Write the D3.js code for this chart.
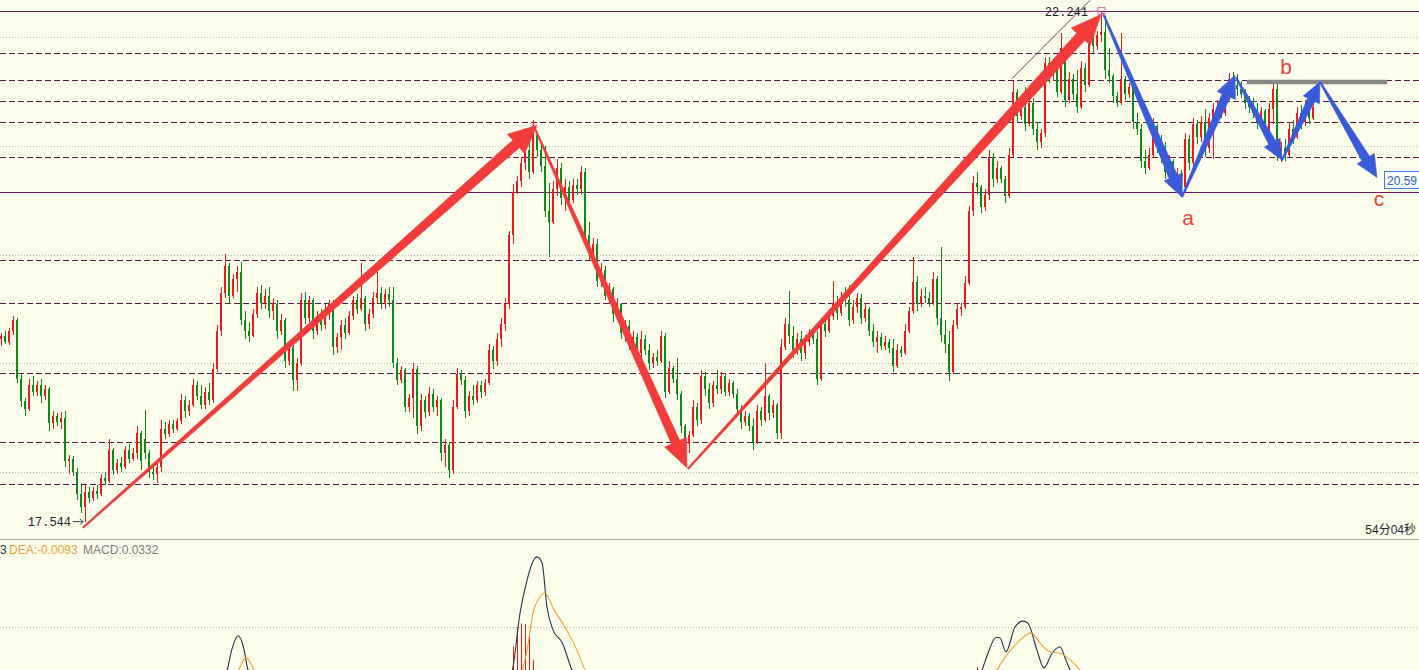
<!DOCTYPE html>
<html><head><meta charset="utf-8">
<script src="https://cdn.jsdelivr.net/npm/d3@7"></script>
<style>html,body{margin:0;padding:0;background:#fefeec;overflow:hidden}svg{display:block}</style>
</head><body>
<svg id="c" width="1419" height="670"></svg>
<script>
// ---- price candles [open, high, low, close] ----
const candles = [
[19.22,19.28,19.16,19.25],[19.25,19.30,19.18,19.20],[19.20,19.33,19.17,19.30],[19.30,19.44,19.26,19.40],[19.40,19.42,18.82,18.86],
[18.86,18.90,18.60,18.65],[18.65,18.68,18.52,18.58],[18.58,18.86,18.56,18.80],[18.80,18.88,18.70,18.74],[18.74,18.84,18.70,18.80],
[18.80,18.86,18.64,18.70],[18.70,18.80,18.66,18.76],[18.76,18.78,18.38,18.45],[18.45,18.56,18.40,18.52],[18.52,18.54,18.42,18.46],
[18.46,18.55,18.40,18.50],[18.50,18.56,18.05,18.10],[18.10,18.16,17.98,18.12],[18.12,18.15,17.96,18.00],[18.00,18.04,17.74,17.80],
[17.80,17.90,17.62,17.68],[17.68,17.88,17.544,17.82],[17.82,17.86,17.72,17.76],[17.76,17.86,17.73,17.83],[17.83,17.88,17.75,17.80],
[17.80,17.98,17.78,17.95],[17.95,18.00,17.88,17.92],[17.92,18.30,17.90,18.20],[18.20,18.22,17.97,18.02],[18.02,18.12,17.98,18.08],
[18.08,18.14,18.00,18.05],[18.05,18.24,18.03,18.20],[18.20,18.26,18.08,18.12],[18.12,18.22,18.10,18.18],[18.18,18.42,18.12,18.36],
[18.36,18.38,18.02,18.10],[18.30,18.57,18.12,18.18],[18.18,18.20,17.95,18.00],[18.00,18.06,17.93,17.98],[17.98,18.08,17.90,18.05],
[18.05,18.48,18.00,18.40],[18.40,18.46,18.30,18.35],[18.35,18.48,18.32,18.44],[18.44,18.48,18.36,18.40],[18.40,18.50,18.38,18.47],
[18.47,18.72,18.44,18.66],[18.66,18.70,18.50,18.56],[18.56,18.66,18.52,18.62],[18.62,18.86,18.60,18.80],[18.80,18.84,18.66,18.70],
[18.70,18.80,18.58,18.62],[18.62,18.78,18.58,18.74],[18.74,18.82,18.62,18.66],[18.66,19.00,18.64,18.95],[18.95,19.35,18.92,19.30],
[19.30,19.70,19.25,19.65],[19.65,20.01,19.60,19.90],[19.90,19.92,19.55,19.62],[19.62,19.82,19.60,19.78],[19.78,19.90,19.66,19.84],
[19.84,19.93,19.35,19.40],[19.40,19.48,19.22,19.30],[19.30,19.38,19.20,19.25],[19.25,19.50,19.24,19.45],[19.45,19.70,19.42,19.65],
[19.65,19.72,19.50,19.56],[19.56,19.68,19.50,19.62],[19.62,19.70,19.42,19.48],[19.48,19.60,19.40,19.55],[19.55,19.58,19.22,19.30],
[19.30,19.45,19.26,19.40],[19.40,19.42,18.96,19.02],[19.02,19.20,18.98,19.15],[19.15,19.18,18.75,18.85],[18.85,19.05,18.75,19.00],
[19.00,19.65,18.98,19.58],[19.58,19.66,19.36,19.42],[19.42,19.62,19.38,19.58],[19.58,19.60,19.22,19.30],[19.30,19.48,19.26,19.44],
[19.44,19.50,19.30,19.35],[19.35,19.55,19.32,19.50],[19.50,19.58,19.40,19.55],[19.55,19.58,19.08,19.15],[19.15,19.28,19.10,19.24],
[19.24,19.40,19.12,19.35],[19.35,19.42,19.22,19.28],[19.28,19.48,19.26,19.44],[19.44,19.62,19.40,19.58],[19.58,19.64,19.45,19.50],
[19.50,19.92,19.48,19.60],[19.60,19.62,19.30,19.36],[19.36,19.50,19.32,19.45],[19.45,19.66,19.42,19.60],[19.60,19.84,19.55,19.65],
[19.65,19.70,19.50,19.55],[19.55,19.68,19.50,19.64],[19.64,19.70,19.52,19.58],[19.58,19.70,18.96,19.00],[19.00,19.05,18.80,18.85],
[18.85,18.98,18.82,18.94],[18.94,18.96,18.55,18.60],[18.60,18.72,18.55,18.68],[18.68,19.00,18.50,18.95],[18.95,18.98,18.35,18.42],
[18.42,18.72,18.38,18.66],[18.66,18.70,18.50,18.55],[18.55,18.78,18.52,18.72],[18.72,18.76,18.55,18.60],[18.60,18.70,18.52,18.66],
[18.66,18.68,18.10,18.18],[18.18,18.30,18.05,18.25],[18.25,18.28,17.95,18.02],[18.02,18.66,17.98,18.60],[18.60,18.96,18.58,18.90],
[18.90,18.94,18.80,18.85],[18.85,18.88,18.50,18.56],[18.56,18.75,18.52,18.70],[18.70,18.80,18.62,18.66],[18.66,18.84,18.64,18.80],
[18.80,18.84,18.68,18.74],[18.74,18.86,18.70,18.82],[18.82,19.18,18.80,19.12],[19.12,19.16,18.95,19.02],[19.02,19.28,18.98,19.22],
[19.22,19.42,19.15,19.36],[19.36,19.60,19.30,19.55],[19.55,20.22,19.50,20.18],[20.18,20.65,20.10,20.58],[20.58,20.72,20.56,20.68],
[20.68,20.90,20.62,20.84],[20.84,21.02,20.78,20.96],[20.96,21.05,20.70,20.76],[20.76,21.24,20.74,21.10],[21.10,21.12,20.90,20.96],
[20.96,21.04,20.76,20.82],[20.82,21.00,20.35,20.40],[20.40,20.66,19.98,20.30],[20.30,20.68,20.28,20.60],[20.60,20.88,20.54,20.80],
[20.80,20.84,20.46,20.52],[20.52,20.70,20.40,20.62],[20.62,20.68,20.45,20.50],[20.50,20.70,20.48,20.64],[20.64,20.70,20.55,20.60],
[20.60,20.82,20.56,20.76],[20.76,20.80,20.12,20.18],[20.18,20.30,19.95,20.02],[20.02,20.15,19.98,20.10],[20.10,20.14,19.70,19.76],
[19.76,19.92,19.70,19.86],[19.86,19.90,19.58,19.62],[19.62,19.74,19.55,19.68],[19.68,19.70,19.38,19.45],[19.45,19.60,19.40,19.55],
[19.55,19.56,19.22,19.28],[19.28,19.40,19.20,19.34],[19.34,19.40,19.12,19.18],[19.18,19.30,19.10,19.24],[19.24,19.28,19.04,19.10],
[19.10,19.30,19.05,19.22],[19.22,19.26,19.08,19.12],[19.12,19.18,18.94,19.00],[19.00,19.10,18.96,19.06],[19.06,19.12,18.98,19.02],
[19.02,19.30,19.00,19.25],[19.25,19.28,18.68,18.74],[18.74,19.02,18.72,18.96],[18.96,18.98,18.82,18.86],[18.86,19.05,18.66,18.72],
[18.72,18.75,18.36,18.42],[18.42,18.44,18.20,18.26],[18.26,18.38,18.18,18.34],[18.34,18.66,18.32,18.60],[18.60,18.64,18.42,18.48],
[18.48,18.94,18.44,18.88],[18.88,18.92,18.70,18.76],[18.76,18.82,18.58,18.64],[18.64,18.84,18.60,18.80],[18.80,18.94,18.72,18.76],
[18.76,18.92,18.72,18.88],[18.88,18.90,18.70,18.74],[18.74,18.86,18.70,18.82],[18.82,18.84,18.68,18.72],[18.72,18.76,18.52,18.58],
[18.58,18.62,18.40,18.46],[18.46,18.56,18.42,18.52],[18.52,18.54,18.38,18.42],[18.42,18.50,18.20,18.28],[18.28,18.62,18.26,18.56],
[18.56,18.60,18.42,18.48],[18.48,19.00,18.46,18.70],[18.70,18.72,18.48,18.54],[18.54,18.66,18.50,18.62],[18.62,18.64,18.30,18.36],
[18.36,19.22,18.30,19.15],[19.15,19.42,19.12,19.36],[19.36,19.67,19.18,19.25],[19.25,19.34,19.05,19.12],[19.12,19.28,19.08,19.22],
[19.22,19.30,19.02,19.10],[19.10,19.26,19.04,19.20],[19.20,19.32,19.16,19.28],[19.28,19.30,19.18,19.22],[19.22,19.30,18.80,18.86],
[18.86,19.42,18.84,19.36],[19.36,19.42,19.24,19.30],[19.30,19.50,19.28,19.44],[19.44,19.76,19.40,19.55],[19.55,19.62,19.40,19.46],
[19.46,19.66,19.44,19.60],[19.60,19.70,19.52,19.58],[19.58,19.72,19.34,19.40],[19.40,19.58,19.36,19.52],[19.52,19.65,19.46,19.60],
[19.60,19.64,19.36,19.42],[19.42,19.56,19.38,19.50],[19.50,19.52,19.25,19.30],[19.30,19.36,19.15,19.20],[19.20,19.30,19.10,19.24],
[19.24,19.28,19.12,19.16],[19.16,19.25,19.12,19.20],[19.20,19.22,19.10,19.14],[19.14,19.22,18.92,18.98],[18.98,19.18,18.96,19.12],
[19.12,19.16,19.06,19.10],[19.10,19.36,19.08,19.30],[19.30,19.52,19.28,19.48],[19.48,19.98,19.45,19.75],[19.75,19.80,19.48,19.55],
[19.55,19.68,19.52,19.62],[19.62,19.70,19.56,19.60],[19.60,19.66,19.52,19.56],[19.56,19.84,19.54,19.78],[19.78,19.80,19.35,19.42],
[19.42,20.07,19.20,19.26],[19.26,19.40,19.10,19.18],[19.18,19.30,18.84,18.92],[18.92,19.40,18.90,19.35],[19.35,19.56,19.32,19.50],
[19.50,19.56,19.44,19.52],[19.52,19.80,19.50,19.74],[19.74,20.45,19.72,20.40],[20.40,20.72,20.36,20.66],[20.66,20.76,20.56,20.62],
[20.62,20.64,20.38,20.44],[20.44,20.60,20.40,20.55],[20.55,20.96,20.50,20.90],[20.90,20.94,20.62,20.70],[20.70,20.86,20.66,20.80],
[20.80,20.82,20.66,20.70],[20.70,20.72,20.48,20.54],[20.54,20.98,20.52,20.92],[20.92,21.60,20.90,21.50],[21.50,21.52,21.22,21.28],
[21.28,21.40,21.24,21.36],[21.36,21.54,21.14,21.20],[21.20,21.45,21.18,21.40],[21.40,21.44,21.10,21.16],[21.16,21.22,20.96,21.04],
[21.04,21.16,20.98,21.12],[21.12,21.82,21.08,21.76],[21.76,21.82,21.58,21.64],[21.64,21.80,21.60,21.74],[21.74,21.78,21.45,21.50],
[21.50,22.04,21.48,21.90],[21.90,21.92,21.36,21.42],[21.42,21.68,21.40,21.62],[21.62,21.66,21.42,21.48],[21.48,21.70,21.30,21.36],
[21.36,21.78,21.34,21.72],[21.72,21.76,21.50,21.56],[21.56,22.08,21.54,22.00],[22.00,22.08,21.86,21.92],[21.92,22.06,21.88,22.02],
[22.02,22.241,21.96,22.05],[22.05,22.20,21.62,21.70],[21.70,21.90,21.58,21.64],[21.64,21.66,21.40,21.46],[21.46,21.50,21.36,21.40],
[21.40,22.04,21.38,21.62],[21.62,21.64,21.42,21.48],[21.48,21.58,21.44,21.54],[21.54,21.56,21.16,21.22],[21.22,21.30,21.10,21.16],
[21.16,21.20,20.80,20.86],[20.86,20.96,20.74,20.80],[20.80,20.98,20.78,20.92],[20.92,21.26,20.90,21.18],[21.18,21.20,20.94,21.00],
[21.00,21.10,20.84,20.90],[20.90,21.04,20.70,20.76],[20.76,20.92,20.72,20.86],[20.86,20.88,20.62,20.68],[20.68,20.80,20.60,20.74],
[20.74,20.78,20.55,20.62],[20.62,21.12,20.58,21.06],[21.06,21.10,20.78,20.84],[20.84,21.26,20.82,21.20],[21.20,21.24,21.02,21.08],
[21.08,21.28,21.04,21.22],[21.22,21.34,20.90,20.98],[20.98,21.30,20.94,21.26],[21.26,21.40,20.88,21.34],[21.34,21.42,21.22,21.36],
[21.36,21.44,21.26,21.30],[21.30,21.48,21.28,21.44],[21.44,21.67,21.42,21.62],[21.62,21.68,21.50,21.56],[21.56,21.66,21.46,21.52],
[21.52,21.60,21.44,21.48],[21.48,21.52,21.34,21.40],[21.40,21.46,21.30,21.36],[21.36,21.44,21.26,21.30],[21.30,21.40,21.16,21.22],
[21.22,21.36,21.18,21.32],[21.32,21.34,21.10,21.16],[21.16,21.40,21.06,21.34],[21.34,21.58,21.20,21.52],[21.52,21.58,20.86,20.94],
[20.94,21.04,20.85,20.98],[20.98,21.06,20.86,20.92],[20.92,21.22,20.90,21.16],[21.16,21.24,21.02,21.08],[21.08,21.36,21.06,21.30],
[21.30,21.38,21.16,21.22],[21.22,21.42,21.18,21.36],[21.36,21.40,21.20,21.26],[21.26,21.42,21.24,21.36]
];

// ---- horizontal levels ----
const solidLevels = [22.241, 20.575];
const dashedLevels = [21.853, 21.607, 21.414, 21.218, 20.896, 19.951, 19.553, 18.909, 18.274, 17.890];
const gridLevels = [22, 21, 20, 19, 18];

// ---- wave arrows [fromIndex, fromPrice, toIndex, toPrice] ----
const redLegs = [[20.5,17.49,134,21.19],[133,21.20,171.5,18.04],[171.75,18.03,275,22.21]];
const blueLegs = [[275.5,22.22,295.25,20.53],[295.25,20.53,308.5,21.65],[308.75,21.63,320.25,20.87],[320.25,20.87,329.75,21.59],[329.75,21.59,344,20.71]];
const waveLabels = [["a",296.75,20.27],["b",321.25,21.665],["c",344.5,20.445]];
const bLine = [311.5, 346.5, 21.589];
const channelLine = [252.75, 21.62, 272.25, 22.34];
const highLabel = ["22.241", 275, 22.241];
const lowLabel = ["17.544", 21, 17.544];
const priceTag = ["20.59", 20.59];
const timerText = "54分04秒";

// ---- MACD (partially visible; legend is cut by the left edge, only "3" of the DIF value shows) ----
const macdLegend = ["3", "DEA:-0.0093", "MACD:0.0332"];
const macdGrid = [0.1];
const dif1 = [[53.5,0.02],[56.5,0.041],[57.75,0.07],[59.25,0.088],[60.5,0.075],[61.75,0.041],[63.5,0.02]];
const dea1 = [[58.5,0.03],[59.75,0.045],[61.25,0.058],[62.75,0.047],[64.25,0.03]];
const dif2 = [[126,0.01],[128,0.045],[129.75,0.119],[131.5,0.164],[133,0.19],[134,0.196],[135.25,0.188],[136.5,0.127],[138,0.096],[140.25,0.079],[142.75,0.041],[144.75,0.02]];
const dea2 = [[129.75,0.03],[131.5,0.068],[133,0.119],[134.75,0.141],[136,0.147],[138,0.126],[141,0.1],[144,0.068],[146,0.041],[148.5,0.015]];
const dif3 = [[243.5,0.02],[245.25,0.041],[246.75,0.064],[248.75,0.086],[249.75,0.085],[251.25,0.066],[253.5,0.1],[255.5,0.108],[256.75,0.105],[259,0.068],[260.75,0.044],[262.75,0.064],[264.75,0.073],[266,0.058],[267.25,0.041],[269.25,0.02]];
const dea3 = [[247.25,0.02],[249,0.041],[251.5,0.062],[254.75,0.082],[257.5,0.092],[259.75,0.078],[262.25,0.066],[264.75,0.064],[267.25,0.055],[269.75,0.041],[272.25,0.02]];
const macdBars = [[127,0.03],[128,0.073],[129,0.1],[130,0.105],[131,0.104],[132,0.092],[133,0.055],[134,0.02],[243,0.03],[244,0.045],[245,0.025]];

// ================= drawing =================
const W = 1419, H = 670, SEP = 539.5;
const svg = d3.select('#c');
const x = d3.scaleLinear().domain([0, 328]).range([1, 1313]);
const y = d3.scaleLinear().domain([18, 22]).range([472.1, 37.3]);
const my = d3.scaleLinear().domain([0, 0.1]).range([700, 627]);

svg.append('rect').attr('width', W).attr('height', H).attr('fill', '#fefeec');

const defs = svg.append('defs');
defs.append('clipPath').attr('id', 'mainClip').append('rect').attr('x', 0).attr('y', 0).attr('width', W).attr('height', SEP - 1);
defs.append('clipPath').attr('id', 'macdClip').append('rect').attr('x', 0).attr('y', SEP + 1).attr('width', W).attr('height', H - SEP);

const main = svg.append('g').attr('clip-path', 'url(#mainClip)');

// grid & levels
main.selectAll('line.grid').data(gridLevels).join('line')
  .attr('x1', 0).attr('x2', W).attr('y1', d => Math.round(y(d)) + 0.5).attr('y2', d => Math.round(y(d)) + 0.5)
  .attr('stroke', '#b9b6a6').attr('stroke-width', 1).attr('stroke-dasharray', '1,2');
main.selectAll('line.dash').data(dashedLevels).join('line')
  .attr('x1', 0).attr('x2', W).attr('y1', d => Math.round(y(d)) + 0.5).attr('y2', d => Math.round(y(d)) + 0.5)
  .attr('stroke', '#5c1d4c').attr('stroke-width', 1).attr('stroke-dasharray', '6,3');
main.selectAll('line.solid').data(solidLevels).join('line')
  .attr('x1', 0).attr('x2', W).attr('y1', d => Math.round(y(d)) + 0.5).attr('y2', d => Math.round(y(d)) + 0.5)
  .attr('stroke', '#6e1a5e').attr('stroke-width', 1);

// candles
const UP = '#ec1c1c', DN = '#11881a';
const cg = main.append('g').attr('shape-rendering', 'crispEdges');
candles.forEach((c, i) => {
  const [o, h, l, cl] = c;
  const cx = Math.round(x(i));
  const col = cl >= o ? UP : DN;
  const yh = y(h), yl = y(l);
  cg.append('rect').attr('x', cx).attr('y', yh).attr('width', 1).attr('height', Math.max(1, yl - yh)).attr('fill', col);
  const yt = y(Math.max(o, cl)), yb = y(Math.min(o, cl));
  cg.append('rect').attr('x', cx - 1).attr('y', yt).attr('width', 2).attr('height', Math.max(1, yb - yt)).attr('fill', col);
});

// tapered arrow helper
function taper(x0, y0, x1, y1, tw, sw, hw, hl) {
  const dx = x1 - x0, dy = y1 - y0, L = Math.hypot(dx, dy);
  const ux = dx / L, uy = dy / L, nx = -uy, ny = ux;
  const bx = x1 - ux * hl, by = y1 - uy * hl;
  return [[x0 + nx * tw, y0 + ny * tw], [bx + nx * sw, by + ny * sw], [bx + nx * hw, by + ny * hw], [x1, y1],
          [bx - nx * hw, by - ny * hw], [bx - nx * sw, by - ny * sw], [x0 - nx * tw, y0 - ny * tw]];
}
const line = d3.line();
const redSize = [[0.8, 5, 13, 28], [0.7, 4.5, 12, 28], [0.8, 5.5, 13, 30]];
const blueSize = [[0.7, 4.5, 10, 22], [0.7, 4.5, 10, 22], [0.7, 4, 9, 20], [0.7, 4, 9, 20], [0.7, 4.5, 10, 22]];
redLegs.forEach((d, k) => {
  const s = redSize[k];
  main.append('path').attr('d', line(taper(x(d[0]), y(d[1]), x(d[2]), y(d[3]), ...s)) + 'Z')
    .attr('fill', '#f23b3b').attr('stroke', '#f23b3b').attr('stroke-width', 0.6);
});
blueLegs.forEach((d, k) => {
  const s = blueSize[k];
  svg.append('path').attr('d', line(taper(x(d[0]), y(d[1]), x(d[2]), y(d[3]), ...s)) + 'Z')
    .attr('fill', '#3a5bd9').attr('stroke', '#3a5bd9').attr('stroke-width', 0.6);
});

// b resistance line
main.append('line').attr('x1', x(bLine[0])).attr('x2', x(bLine[1])).attr('y1', y(bLine[2])).attr('y2', y(bLine[2]))
  .attr('stroke', '#868686').attr('stroke-width', 4.5);

// channel line
main.append('line').attr('x1', x(channelLine[0])).attr('y1', y(channelLine[1])).attr('x2', x(channelLine[2])).attr('y2', y(channelLine[3]))
  .attr('stroke', '#3a1f4a').attr('stroke-width', 0.8);

// wave labels
svg.selectAll('text.wl').data(waveLabels).join('text')
  .attr('x', d => x(d[1])).attr('y', d => y(d[2])).attr('text-anchor', 'middle')
  .attr('font-family', 'Liberation Sans, Arial, sans-serif').attr('font-size', 21).attr('fill', '#e8413c').text(d => d[0]);

// high label
const hx = x(highLabel[1]), hy = y(highLabel[2]);
svg.append('text').attr('x', hx - 13).attr('y', hy + 5).attr('text-anchor', 'end')
  .attr('font-family', 'Liberation Mono, monospace').attr('font-size', 12).attr('fill', '#1d2433').text(highLabel[0]);
svg.append('line').attr('x1', hx - 12).attr('x2', hx - 3).attr('y1', hy).attr('y2', hy).attr('stroke', '#e07ab8').attr('stroke-width', 1);
svg.append('rect').attr('x', hx - 3).attr('y', hy - 3.5).attr('width', 7).attr('height', 7)
  .attr('fill', 'none').attr('stroke', '#d86aa8').attr('stroke-width', 1);

// low label
const lx = x(lowLabel[1]), ly = y(lowLabel[2]);
svg.append('text').attr('x', lx - 14).attr('y', ly + 4).attr('text-anchor', 'end')
  .attr('font-family', 'Liberation Mono, monospace').attr('font-size', 12).attr('fill', '#1d2433').text(lowLabel[0]);
svg.append('path').attr('d', `M${lx - 12},${ly}L${lx - 2},${ly}M${lx - 5},${ly - 3}L${lx - 2},${ly}L${lx - 5},${ly + 3}`)
  .attr('fill', 'none').attr('stroke', '#404040').attr('stroke-width', 1);

// price tag
const ty = Math.round(y(solidLevels[1]));
svg.append('rect').attr('x', 1384.5).attr('y', ty - 20.5).attr('width', 40).attr('height', 17)
  .attr('fill', '#ffffff').attr('stroke', '#3d7fe0').attr('stroke-width', 1);
svg.append('text').attr('x', 1387).attr('y', ty - 7.5).attr('font-family', 'Liberation Sans, Arial, sans-serif')
  .attr('font-size', 12).attr('fill', '#2a64d0').text(priceTag[0]);

// timer
svg.append('text').attr('x', 1416).attr('y', 534).attr('text-anchor', 'end')
  .attr('font-family', 'Liberation Sans, Noto Sans CJK SC, sans-serif').attr('font-size', 12).attr('fill', '#1d2a3a').text(timerText);

// separator
svg.append('line').attr('x1', 0).attr('x2', W).attr('y1', SEP).attr('y2', SEP).attr('stroke', '#adada3').attr('stroke-width', 1.2);

// MACD panel
const mp = svg.append('g').attr('clip-path', 'url(#macdClip)');
mp.selectAll('line.mg').data(macdGrid).join('line')
  .attr('x1', 0).attr('x2', W).attr('y1', d => Math.round(my(d)) + 0.5).attr('y2', d => Math.round(my(d)) + 0.5)
  .attr('stroke', '#b9b6a6').attr('stroke-dasharray', '1,2');
mp.selectAll('line.bar').data(macdBars).join('line')
  .attr('x1', d => Math.round(x(d[0])) + 0.5).attr('x2', d => Math.round(x(d[0])) + 0.5)
  .attr('y1', my(0)).attr('y2', d => my(d[1])).attr('stroke', '#e81e1e').attr('stroke-width', 1);
const ml = d3.line().x(d => x(d[0])).y(d => my(d[1])).curve(d3.curveMonotoneX);
[dif1, dif2, dif3].forEach(s => mp.append('path').attr('d', ml(s)).attr('fill', 'none').attr('stroke', '#23344f').attr('stroke-width', 1.1));
[dea1, dea2, dea3].forEach(s => mp.append('path').attr('d', ml(s)).attr('fill', 'none').attr('stroke', '#f0a23a').attr('stroke-width', 1.1));

const lg = svg.append('g').attr('font-family', 'Liberation Sans, Arial, sans-serif').attr('font-size', 12);
lg.append('text').attr('x', 0).attr('y', 554).attr('fill', '#23344f').text(macdLegend[0]);
lg.append('text').attr('x', 9).attr('y', 554).attr('fill', '#f0a23a').text(macdLegend[1]);
lg.append('text').attr('x', 83).attr('y', 554).attr('fill', '#7d7d7d').text(macdLegend[2]);
</script>
</body></html>
